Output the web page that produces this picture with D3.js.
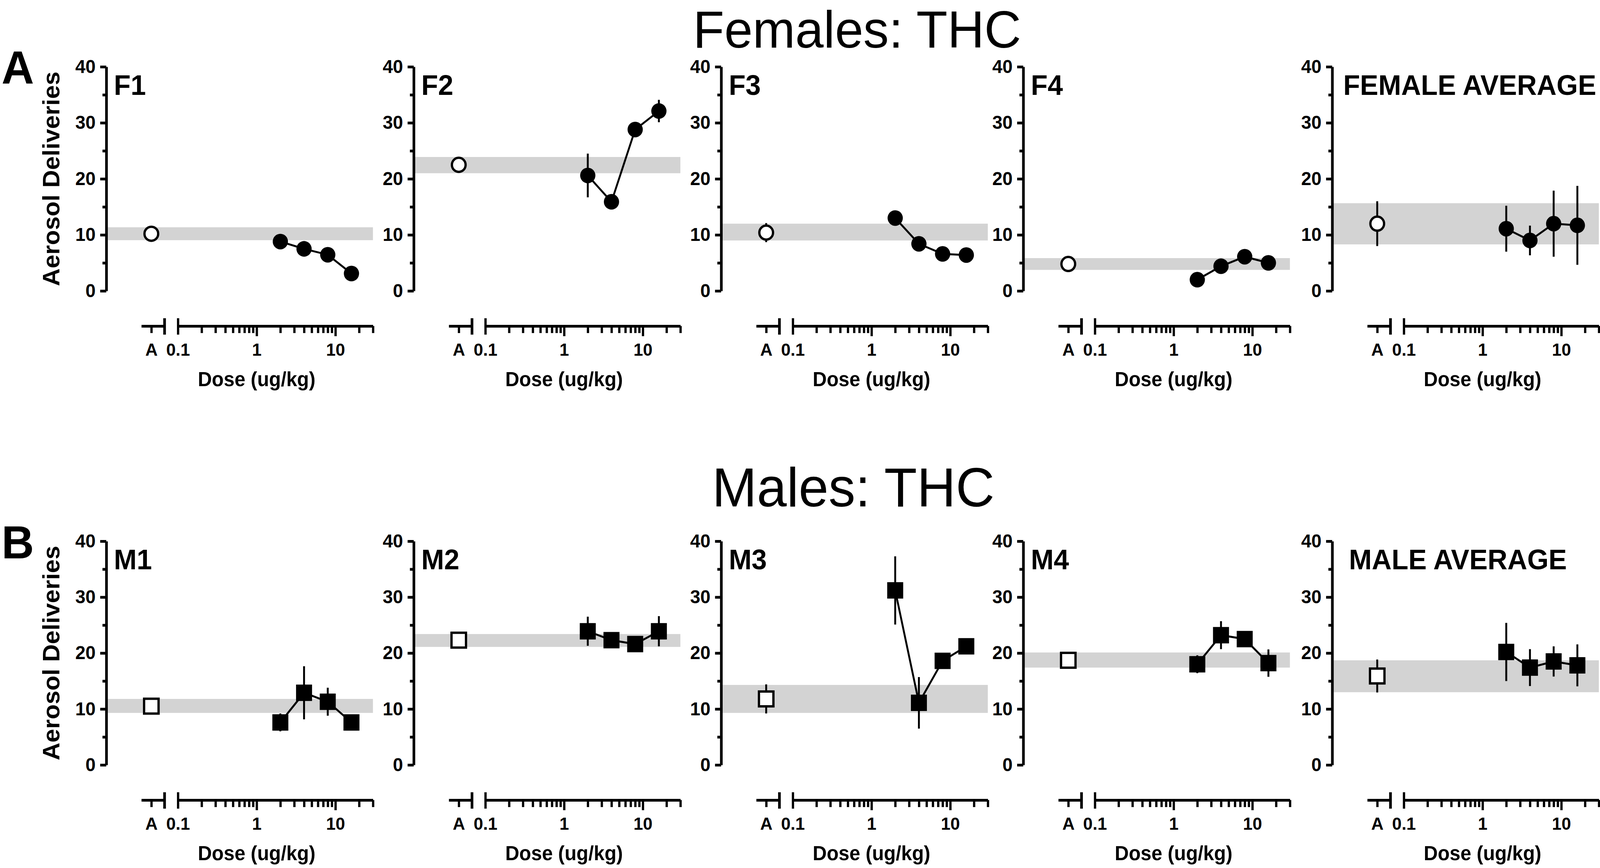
<!DOCTYPE html>
<html>
<head>
<meta charset="utf-8">
<script src="https://cdn.jsdelivr.net/npm/d3@7"></script>
<style>
  html, body { margin: 0; padding: 0; width: 100%; height: 100%; background: #fff; overflow: hidden; }
  svg { display: block; width: 100vw; height: 100vh; }
</style>
</head>
<body>
<svg id="chart"></svg>
<script>
// ---- data ----
const doses = [2, 4, 8, 16];
const majorTicks = [0.1, 1, 10];
const minorTicks = [0.2, 0.3, 0.4, 0.5, 0.6, 0.7, 0.8, 0.9, 2, 3, 4, 5, 6, 7, 8, 9, 20, 30];
const yTicks = [0, 10, 20, 30, 40];
const yMinorTicks = [5, 15, 25, 35];

const femaleLabels = ["F1", "F2", "F3", "F4", "FEMALE AVERAGE"];
const femaleAirMean = [10.2, 22.5, 10.4, 4.8, 12.0];
const femaleAirSem = [0.4, 0.6, 1.7, 0.5, 4.0];
const femaleBandLow = [9.05, 21.0, 9.0, 3.75, 8.3];
const femaleBandHigh = [11.35, 23.9, 12.0, 5.85, 15.65];
const femaleThcMean = [
  [8.8, 7.5, 6.45, 3.1],
  [20.6, 15.9, 28.8, 32.1],
  [13.0, 8.4, 6.6, 6.4],
  [2.0, 4.4, 6.1, 5.0],
  [11.1, 9.0, 12.0, 11.7]
];
const femaleThcSem = [
  [0.5, 0.5, 0.5, 0.5],
  [3.9, 0.6, 0.8, 2.0],
  [0.6, 0.6, 0.5, 0.5],
  [0.5, 0.5, 0.5, 0.5],
  [4.1, 2.65, 5.9, 7.05]
];

const maleLabels = ["M1", "M2", "M3", "M4", "MALE AVERAGE"];
const maleAirMean = [10.5, 22.3, 11.8, 18.7, 15.9];
const maleAirSem = [0.5, 0.5, 2.6, 0.5, 2.95];
const maleBandLow = [9.3, 21.1, 9.3, 17.4, 13.0];
const maleBandHigh = [11.8, 23.4, 14.3, 20.1, 18.7];
const maleThcMean = [
  [7.6, 12.9, 11.3, 7.6],
  [23.9, 22.3, 21.6, 23.9],
  [31.2, 11.1, 18.6, 21.2],
  [18.0, 23.2, 22.5, 18.2],
  [20.2, 17.4, 18.5, 17.8]
];
const maleThcSem = [
  [1.6, 4.75, 2.5, 0.5],
  [2.6, 0.6, 0.6, 2.7],
  [6.1, 4.6, 0.6, 0.6],
  [1.6, 2.5, 0.6, 2.45],
  [5.2, 3.3, 2.7, 3.75]
];

// ---- layout ----
const W = 4200, H = 2223;
const FONT = "'Liberation Sans', Arial, Helvetica, sans-serif";
const panelX = [279, 1086, 1893, 2686, 3497];

const rows = [
  { title: "Females: THC", titleX: 2250, titleY: 122, titleSize: 134, letter: "A", letterY: 214,
    top: 171, bottom: 745, symbol: d3.symbolCircle,
    labels: femaleLabels, airMean: femaleAirMean, airSem: femaleAirSem,
    bandLow: femaleBandLow, bandHigh: femaleBandHigh,
    thcMean: femaleThcMean, thcSem: femaleThcSem, avgOffset: 29 },
  { title: "Males: THC", titleX: 2240, titleY: 1297, titleSize: 141, letter: "B", letterY: 1430,
    top: 1386, bottom: 1959, symbol: d3.symbolSquare,
    labels: maleLabels, airMean: maleAirMean, airSem: maleAirSem,
    bandLow: maleBandLow, bandHigh: maleBandHigh,
    thcMean: maleThcMean, thcSem: maleThcSem, avgOffset: 44 }
];

// the 4200x2223 drawing fills whatever viewport the page gets
const svg = d3.select("#chart")
  .attr("viewBox", `0 0 ${W} ${H}`)
  .attr("preserveAspectRatio", "none")
  .attr("font-family", FONT);

svg.append("rect").attr("width", W).attr("height", H).attr("fill", "#fff");

const x = d3.scaleLog().domain([0.1, 30]).range([188, 700]);
const xA = d3.scalePoint().domain(["A"]).range([92, 153]).align(0.43);
const fmt = d3.format("~g");

function styleTickText(a, size) {
  a.selectAll(".tick text")
    .attr("font-size", size)
    .attr("font-weight", "bold")
    .attr("font-family", FONT)
    .attr("fill", "#000");
}

rows.forEach(row => {
  svg.append("text")
    .attr("x", row.titleX)
    .attr("y", row.titleY)
    .attr("text-anchor", "middle")
    .attr("font-size", row.titleSize)
    .text(row.title);

  svg.append("text")
    .attr("x", 4)
    .attr("y", row.letterY)
    .attr("font-size", 118)
    .attr("font-weight", "bold")
    .text(row.letter);

  const y = d3.scaleLinear().domain([0, 40]).range([row.bottom, row.top]);
  const axisY = row.bottom + 90;

  row.labels.forEach((label, p) => {
    const g = svg.append("g").attr("transform", `translate(${panelX[p]},0)`);

    // baseline (air) band
    g.append("rect")
      .attr("x", 0)
      .attr("width", x.range()[1])
      .attr("y", y(row.bandHigh[p]))
      .attr("height", y(row.bandLow[p]) - y(row.bandHigh[p]))
      .attr("fill", "#d3d3d3");

    // y axis
    g.append("g")
      .call(d3.axisLeft(y).tickValues(yTicks).tickSize(16).tickPadding(12).tickSizeOuter(0))
      .call(a => {
        a.select(".domain").attr("stroke-width", 7);
        a.selectAll(".tick line").attr("stroke-width", 7);
        styleTickText(a, 48);
      });
    g.append("g")
      .call(d3.axisLeft(y).tickValues(yMinorTicks).tickSize(10).tickFormat(""))
      .call(a => {
        a.select(".domain").remove();
        a.selectAll(".tick text").remove();
        a.selectAll(".tick line").attr("stroke-width", 7);
      });

    // x axis: air segment
    const gA = g.append("g").attr("transform", `translate(0,${axisY})`)
      .call(d3.axisBottom(xA).tickSize(18).tickPadding(26).tickSizeOuter(0))
      .call(a => {
        a.select(".domain").attr("stroke-width", 7);
        a.selectAll(".tick line").attr("stroke-width", 6);
        styleTickText(a, 45);
      });
    gA.append("line")
      .attr("x1", xA.range()[1]).attr("x2", xA.range()[1])
      .attr("y1", -20).attr("y2", 22)
      .attr("stroke", "#000").attr("stroke-width", 7);

    // x axis: log dose segment
    g.append("g").attr("transform", `translate(0,${axisY})`)
      .call(d3.axisBottom(x)
        .tickValues(majorTicks.concat(minorTicks))
        .tickFormat(d => majorTicks.includes(d) ? fmt(d) : "")
        .tickSize(26).tickPadding(18).tickSizeOuter(0))
      .call(a => {
        a.select(".domain").attr("stroke-width", 7);
        a.selectAll(".tick line")
          .attr("stroke-width", 6)
          .attr("y1", d => d === majorTicks[0] ? -20 : 0)
          .attr("y2", d => d === majorTicks[0] ? 22 : (majorTicks.includes(d) ? 26 : 18));
        a.selectAll(".tick text").filter(d => !majorTicks.includes(d)).remove();
        styleTickText(a, 45);
      });

    g.append("text")
      .attr("x", x(1))
      .attr("y", row.bottom + 244)
      .attr("text-anchor", "middle")
      .attr("font-size", 51)
      .attr("font-weight", "bold")
      .text("Dose (ug/kg)");

    // panel label
    g.append("text")
      .attr("x", p === row.labels.length - 1 ? row.avgOffset : 20)
      .attr("y", row.top + 72)
      .attr("font-size", 72)
      .attr("font-weight", "bold")
      .text(label);

    // THC dose series
    const pts = doses.map((d, i) => ({ dose: d, mean: row.thcMean[p][i], sem: row.thcSem[p][i] }));

    g.selectAll("line.err")
      .data(pts)
      .join("line")
      .attr("class", "err")
      .attr("x1", d => x(d.dose)).attr("x2", d => x(d.dose))
      .attr("y1", d => y(d.mean - d.sem)).attr("y2", d => y(d.mean + d.sem))
      .attr("stroke", "#000").attr("stroke-width", 5);

    g.append("path")
      .datum(pts)
      .attr("fill", "none")
      .attr("stroke", "#000")
      .attr("stroke-width", 5)
      .attr("d", d3.line().x(d => x(d.dose)).y(d => y(d.mean)));

    const filledSize = row.symbol === d3.symbolCircle ? 1257 : 1764;
    g.selectAll("path.mk")
      .data(pts)
      .join("path")
      .attr("class", "mk")
      .attr("transform", d => `translate(${x(d.dose)},${y(d.mean)})`)
      .attr("d", d3.symbol().type(row.symbol).size(filledSize))
      .attr("fill", "#000");

    // air point
    const air = { mean: row.airMean[p], sem: row.airSem[p] };
    g.append("line")
      .attr("x1", xA("A")).attr("x2", xA("A"))
      .attr("y1", y(air.mean - air.sem)).attr("y2", y(air.mean + air.sem))
      .attr("stroke", "#000").attr("stroke-width", 5);
    const openSize = row.symbol === d3.symbolCircle ? 1018 : 1444;
    g.append("path")
      .attr("transform", `translate(${xA("A")},${y(air.mean)})`)
      .attr("d", d3.symbol().type(row.symbol).size(openSize))
      .attr("fill", "#fff")
      .attr("stroke", "#000")
      .attr("stroke-width", 6);

    if (p === 0) {
      g.append("text")
        .attr("transform", `translate(${134 - panelX[p]},${(row.top + row.bottom) / 2}) rotate(-90)`)
        .attr("dy", 22)
        .attr("text-anchor", "middle")
        .attr("font-size", 63)
        .attr("font-weight", "bold")
        .text("Aerosol Deliveries");
    }
  });
});
</script>
</body>
</html>
